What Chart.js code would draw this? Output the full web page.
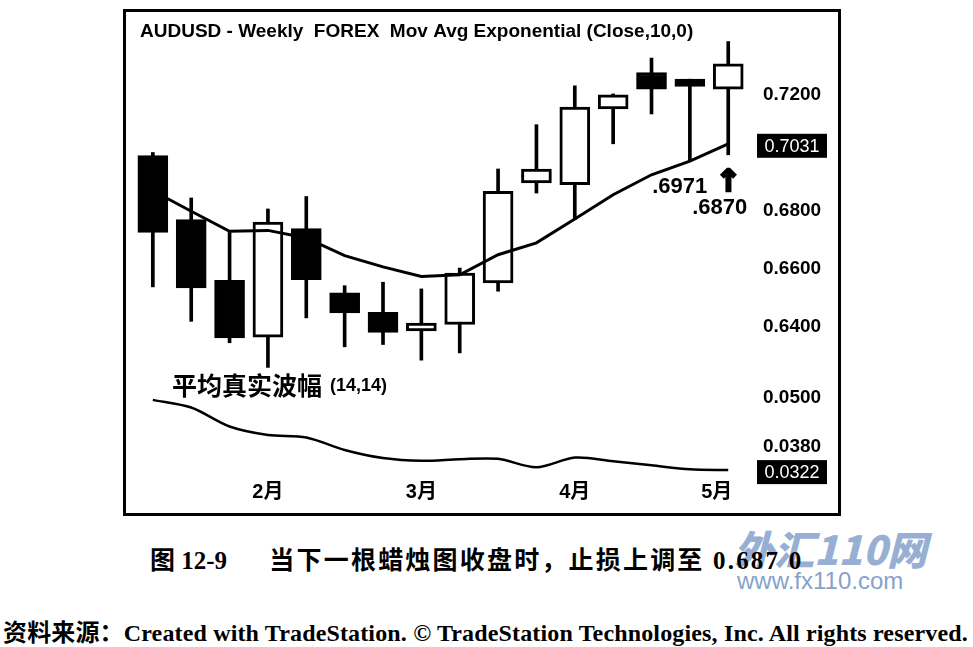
<!doctype html>
<html lang="zh">
<head>
<meta charset="UTF-8">
<title>AUDUSD - Weekly</title>
<style>
  html, body { margin: 0; padding: 0; background: #fff; }
  body { width: 973px; height: 647px; position: relative; overflow: hidden; }
  #box { position: absolute; left: 123px; top: 9px; width: 712px; height: 501px; border: 3px solid #000; }
  #box canvas { display: block; }
  .wm { position: absolute; color: #86a2cc; white-space: pre; }
  #logo { left: 734px; top: 526px; font: italic 900 40px 'Noto Sans CJK SC', sans-serif; line-height: 44px; opacity: .85; }
  #site { left: 737px; top: 567px; font: 24px 'Liberation Sans', sans-serif; line-height: 28px; }
  #caption { position: absolute; left: 150px; top: 540px; white-space: pre; line-height: 30px;
             font: bold 25px 'Liberation Serif', 'Noto Sans CJK SC', serif; letter-spacing: 2.2px; }
  #caption .tight { letter-spacing: 0; }
  #source { position: absolute; left: 3px; top: 613px; white-space: pre; line-height: 28px;
            font: bold 24px 'Liberation Serif', 'Noto Sans CJK SC', serif; letter-spacing: 0.15px; }
</style>
</head>
<body>

<div id="logo" class="wm">外汇110网</div>
<div id="site" class="wm">www.fx110.com</div>
<div id="box"><canvas id="chart" width="712" height="501"></canvas></div>
<div id="caption"><span class="tight">图 12-9</span>     当下一根蜡烛图收盘时，止损上调至 0.687 0</div>
<div id="source">资料来源：Created with TradeStation. © TradeStation Technologies, Inc. All rights reserved.</div>

<script src="https://cdn.jsdelivr.net/npm/chart.js@4.4.1/dist/chart.umd.min.js"></script>
<script>
    // weekly AUDUSD bars
    const openPx  = [0.6990, 0.6769, 0.6560, 0.6363, 0.6738, 0.6516, 0.6449, 0.6385, 0.6407, 0.6551, 0.6896, 0.6890, 0.7151, 0.7277, 0.7254, 0.7220];
    const highPx  = [0.7001, 0.6844, 0.6725, 0.6806, 0.6849, 0.6541, 0.6553, 0.6530, 0.6602, 0.6944, 0.7097, 0.7231, 0.7203, 0.7327, 0.7254, 0.7384];
    const lowPx   = [0.6537, 0.6418, 0.6344, 0.6259, 0.6430, 0.6330, 0.6338, 0.6284, 0.6309, 0.6522, 0.6861, 0.6769, 0.7031, 0.7134, 0.6971, 0.6993];
    const closePx = [0.6725, 0.6533, 0.6361, 0.6761, 0.6562, 0.6447, 0.6380, 0.6412, 0.6585, 0.6867, 0.6944, 0.7158, 0.7200, 0.7220, 0.7229, 0.7307];

    // 10-week exponential moving average of the close
    const ema = [0.6869, 0.6798, 0.6729, 0.6732, 0.6706, 0.6645, 0.6606, 0.6573, 0.6579, 0.6648, 0.6689, 0.6771, 0.6855, 0.6924, 0.6971, 0.7031];
    // average true range (14,14)
    const atr = [0.0496, 0.0477, 0.0430, 0.0409, 0.0403, 0.0372, 0.0352, 0.0345, 0.0349, 0.0350, 0.0329, 0.0353, 0.0344, 0.0334, 0.0324, 0.0322];

    const monthLabels = ['2月', '3月', '4月', '5月'];
    const monthPos = [3, 7, 11, 14.7];
    const priceTicks = [0.64, 0.66, 0.68, 0.72];
    const atrTicks = [0.038, 0.050];

    const titleText = 'AUDUSD - Weekly  FOREX  Mov Avg Exponential (Close,10,0)';
    const atrName = '平均真实波幅';
    const atrParams = '(14,14)';
    const stopOld = 0.6971, stopNew = 0.6870;

    const wicks = highPx.map((h, i) => ({x: i, y: [lowPx[i], h]}));
    const bodies = openPx.map((o, i) => ({x: i, y: [o, closePx[i]]}));
    const bodyFill = openPx.map((o, i) => closePx[i] >= o ? '#fff' : '#000');

    const SANS = "'Liberation Sans', 'Noto Sans CJK SC', sans-serif";

    const overlay = {
        id: 'overlay',
        afterDraw(chart) {
            const {ctx} = chart;
            const {x, y, y2} = chart.scales;
            ctx.save();
            ctx.fillStyle = '#000';
            ctx.strokeStyle = '#000';
            ctx.textBaseline = 'middle';
            ctx.textAlign = 'left';

            ctx.font = 'bold 19px ' + SANS;
            ctx.fillText(titleText, 14, 20, 557);

            // lower panel name
            const lx = x.getPixelForValue(0.5), ly = y2.top + 15;
            ctx.font = "bold 25px 'Noto Sans CJK SC'";
            ctx.fillText(atrName, lx, ly);
            const w = ctx.measureText(atrName).width;
            ctx.font = 'bold 18px ' + SANS;
            ctx.fillText(atrParams, lx + w + 8, ly + 1);

            // stop notes
            const last = x.getPixelForValue(15);
            ctx.textAlign = 'right';
            ctx.font = 'bold 22px ' + SANS;
            ctx.fillText(stopOld.toFixed(4).slice(1), last - 21, y.getPixelForValue(stopOld) + 26);
            ctx.fillText(stopNew.toFixed(4).slice(1), last + 19, y.getPixelForValue(stopNew) + 18);
            ctx.textAlign = 'center';
            ctx.font = "bold 30px 'DejaVu Sans'";
            ctx.lineWidth = 2.5;
            const ay = y.getPixelForValue(lowPx[15]) + 28;
            ctx.fillText('↑', last, ay);
            ctx.strokeText('↑', last, ay);

            // last-value boxes on the axis
            [[y, ema[ema.length - 1]], [y2, atr[atr.length - 1]]].forEach(([s, v]) => {
                const py = s.getPixelForValue(v) + 2;
                ctx.fillStyle = '#000';
                ctx.fillRect(s.left, py - 12, 70, 24);
                ctx.fillStyle = '#fff';
                ctx.font = '18px ' + SANS;
                ctx.textAlign = 'center';
                ctx.fillText(v.toFixed(4), s.left + 35, py + 1);
            });
            ctx.restore();
        }
    };

    const yAxis = (ticksArr, extra) => Object.assign({
        type: 'linear',
        position: 'right',
        stack: 'panes',
        grid: {display: false, drawTicks: false},
        border: {display: false},
        afterBuildTicks: s => { s.ticks = ticksArr.map(v => ({value: v})); },
        afterFit: s => { s.width = 81; s.paddingTop = 0; s.paddingBottom = 0; },
        ticks: {
            padding: 6,
            color: '#000',
            font: {family: SANS, size: 19, weight: 'bold'},
            callback: v => Number(v).toFixed(4)
        }
    }, extra);

    new Chart(document.getElementById('chart'), {
        type: 'bar',
        data: {
            datasets: [
                {type: 'bar', data: wicks, yAxisID: 'y', barThickness: 3, backgroundColor: '#000',
                    borderWidth: 0, grouped: false, order: 3},
                {type: 'bar', data: bodies, yAxisID: 'y', barThickness: 30, backgroundColor: bodyFill,
                    borderColor: '#000', borderWidth: 3, borderSkipped: false, grouped: false, order: 2},
                {type: 'line', data: ema.map((v, i) => ({x: i, y: v})), yAxisID: 'y', borderColor: '#000',
                    borderWidth: 3, pointRadius: 0, tension: 0, order: 1},
                {type: 'line', data: atr.map((v, i) => ({x: i, y: v})), yAxisID: 'y2', borderColor: '#000',
                    borderWidth: 2.5, pointRadius: 0, tension: 0.3, order: 1}
            ]
        },
        options: {
            responsive: false,
            animation: false,
            layout: {padding: 0},
            plugins: {legend: {display: false}, tooltip: {enabled: false}},
            scales: {
                x: {
                    type: 'linear',
                    min: -0.7,
                    max: 15.75,
                    offset: false,
                    grid: {display: false, drawTicks: false},
                    border: {display: false},
                    afterBuildTicks: s => { s.ticks = monthPos.map(v => ({value: v})); },
                    afterFit: s => { s.height = 34; s.paddingLeft = 0; s.paddingRight = 0; },
                    ticks: {
                        autoSkip: false,
                        maxRotation: 0,
                        padding: 1,
                        color: '#000',
                        font: {family: SANS, size: 20, weight: 'bold'},
                        callback: (v, i) => monthLabels[i]
                    }
                },
                y: yAxis(priceTicks, {min: 0.6250, max: 0.7486, stackWeight: 358}),
                y2: yAxis(atrTicks, {min: 0.030, max: 0.057, stackWeight: 109})
            }
        },
        plugins: [overlay]
    });
</script>
</body>
</html>
